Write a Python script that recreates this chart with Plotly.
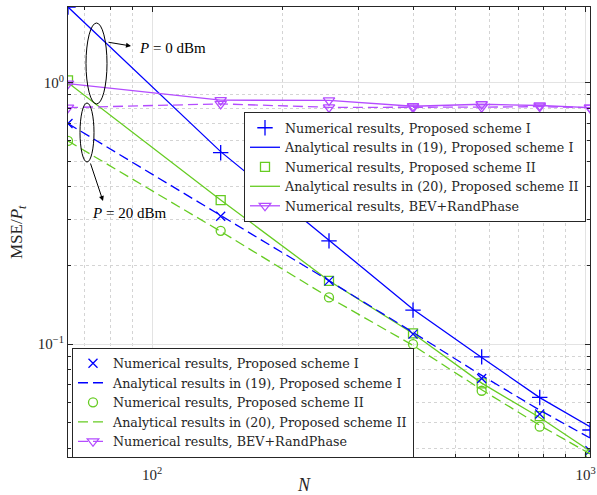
import plotly.graph_objects as go
import math

# ---------------- data ----------------
N = [64, 144, 256, 400, 576, 784, 1024]

# P = 0 dBm
num_I_p0 = [1.947, 0.540, 0.2484, 0.1350, 0.0895, 0.0626, 0.0470]
ana_I_p0 = [1.947, 0.545, 0.250, 0.136, 0.0890, 0.0625, 0.0484]
num_II_p0 = [1.021, 0.3554, 0.1747, 0.110, 0.0708, 0.0531, 0.0368]
ana_II_p0 = [1.000, 0.356, 0.175, 0.110, 0.0710, 0.0525, 0.0391]
bev_p0 = [0.992, 0.857, 0.856, 0.8125, 0.827, 0.818, 0.803]

# P = 20 dBm
num_I_p20 = [0.698, 0.3087, 0.1747, 0.1093, 0.0740, 0.0541, 0.0392]
ana_I_p20 = [0.698, 0.310, 0.175, 0.111, 0.0760, 0.0560, 0.0438]
num_II_p20 = [0.599, 0.2713, 0.151, 0.1001, 0.0664, 0.0484, 0.0380]
ana_II_p20 = [0.599, 0.270, 0.151, 0.099, 0.0670, 0.0490, 0.0381]
bev_p20 = [0.803, 0.830, 0.805, 0.803, 0.806, 0.810, 0.803]

labels = [
    "Numerical results, Proposed scheme I",
    "Analytical results in (19), Proposed scheme I",
    "Numerical results, Proposed scheme II",
    "Analytical results in (20), Proposed scheme II",
    "Numerical results, BEV+RandPhase",
]

x_tickvals = [100, 1000]
x_ticktext = ["10<sup>2</sup>", "10<sup>3</sup>"]
y_tickvals = [0.1, 1]
y_ticktext = ["10<sup>\u22121</sup>", "10<sup>0</sup>"]
x_minor = [70, 80, 90, 200, 300, 400, 500, 600, 700, 800, 900]
y_minor = [0.04, 0.05, 0.06, 0.07, 0.08, 0.09, 0.2, 0.3, 0.4, 0.5, 0.6, 0.7, 0.8, 0.9]

BLUE = "#0000FF"
GREEN = "#66CC22"
PURPLE = "#B44CFF"
FONT = "Liberation Serif"
LFONT = "DejaVu Serif"

# ---------------- geometry (screen px -> paper) ----------------
W, H = 597, 495
L, T = 68, 7
PLOT_RIGHT, PLOT_BOTTOM = 590, 457
R, B = W - PLOT_RIGHT, H - PLOT_BOTTOM
PW, PH = PLOT_RIGHT - L, PLOT_BOTTOM - T


def pxx(px):
    return (px - L) / PW


def pxy(py):
    return (PLOT_BOTTOM - py) / PH


fig = go.Figure()

lw = 1.3


def add(y, name, color, mode, dash="solid", symbol=None, size=9, legend="legend"):
    kw = dict(x=N, y=y, name=name, mode=mode, legend=legend,
              line=dict(color=color, width=lw, dash=dash))
    if symbol:
        kw["marker"] = dict(symbol=symbol, size=size, color=color,
                            line=dict(color=color, width=1.3))
    fig.add_trace(go.Scatter(**kw))


# legend 1: P = 0 dBm
add(num_I_p0, labels[0], BLUE, "markers", symbol="cross-thin-open", size=11)
add(ana_I_p0, labels[1], BLUE, "lines")
add(num_II_p0, labels[2], GREEN, "markers", symbol="square-open", size=9)
add(ana_II_p0, labels[3], GREEN, "lines")
add(bev_p0, labels[4], PURPLE, "lines+markers", symbol="triangle-down-open", size=10)

# legend 2: P = 20 dBm
add(num_I_p20, labels[0], BLUE, "markers", symbol="x-thin-open", size=9, legend="legend2")
add(ana_I_p20, labels[1], BLUE, "lines", dash="10px,5px", legend="legend2")
add(num_II_p20, labels[2], GREEN, "markers", symbol="circle-open", size=9, legend="legend2")
add(ana_II_p20, labels[3], GREEN, "lines", dash="10px,5px", legend="legend2")
add(bev_p20, labels[4], PURPLE, "lines+markers", dash="10px,5px",
    symbol="triangle-down-open", size=10, legend="legend2")

axis_common = dict(
    type="log", automargin=False,
    showline=True, linecolor="#262626", linewidth=1, mirror="allticks",
    ticks="inside", ticklen=5, tickcolor="#262626",
    showgrid=True, gridcolor="#e3e3e3", gridwidth=1,
    zeroline=False,
    tickfont=dict(family=FONT, size=15, color="#262626"),
)

fig.update_xaxes(
    **axis_common,
    range=[math.log10(64), math.log10(1024)],
    tickmode="array", tickvals=x_tickvals, ticktext=x_ticktext,
    ticklabelstandoff=4,
    minor=dict(tickmode="array", tickvals=x_minor, ticks="inside", ticklen=3,
               tickcolor="#262626", showgrid=True, gridcolor="#d4d4d4", griddash="dot"),
)
fig.update_yaxes(
    **axis_common,
    range=[math.log10(0.03706), math.log10(1.947)],
    tickmode="array", tickvals=y_tickvals, ticktext=y_ticktext,
    minor=dict(tickmode="array", tickvals=y_minor, ticks="inside", ticklen=3,
               tickcolor="#262626", showgrid=True, gridcolor="#d4d4d4", griddash="dot"),
)

legend_common = dict(
    bgcolor="white", bordercolor="#262626", borderwidth=1,
    font=dict(family=LFONT, size=12.7, color="#262626"),
    tracegroupgap=0, itemwidth=30,
)

fig.update_layout(
    width=W, height=H,
    margin=dict(l=L, r=R, t=T, b=B, autoexpand=False),
    paper_bgcolor="white", plot_bgcolor="white",
    showlegend=True,
    legend=dict(**legend_common, x=pxx(586), y=pxy(112), xanchor="right", yanchor="top"),
    legend2=dict(**legend_common, x=pxx(72), y=pxy(457.5), xanchor="left", yanchor="bottom"),
)

# axis titles
fig.add_annotation(xref="paper", yref="paper", x=pxx(304), y=pxy(485),
                   xanchor="center", yanchor="middle",
                   showarrow=False, text="<i>N</i>",
                   font=dict(family=FONT, size=18, color="#262626"))
fig.add_annotation(xref="paper", yref="paper", x=pxx(18), y=pxy(232),
                   xanchor="center", yanchor="middle",
                   showarrow=False, textangle=-90,
                   text="MSE/<i>P</i><sub><i>t</i></sub>",
                   font=dict(family=FONT, size=17, color="#262626"))

# ellipses
fig.add_shape(type="circle", xref="paper", yref="paper",
              x0=pxx(86), x1=pxx(107), y0=pxy(104), y1=pxy(23),
              line=dict(color="black", width=1))
fig.add_shape(type="circle", xref="paper", yref="paper",
              x0=pxx(80), x1=pxx(94), y0=pxy(162), y1=pxy(103),
              line=dict(color="black", width=1))

# arrows
fig.add_annotation(xref="paper", yref="paper", x=pxx(131), y=pxy(46),
                   ax=107 - 131, ay=42 - 46, text="", showarrow=True,
                   arrowhead=2, arrowsize=1, arrowwidth=1, arrowcolor="black")
fig.add_annotation(xref="paper", yref="paper", x=pxx(103), y=pxy(201),
                   ax=90 - 103, ay=162 - 201, text="", showarrow=True,
                   arrowhead=2, arrowsize=1, arrowwidth=1, arrowcolor="black")

# texts
fig.add_annotation(xref="paper", yref="paper", x=pxx(137), y=pxy(48),
                   xanchor="left", yanchor="middle", showarrow=False,
                   text="<i>P</i> = 0 dBm", font=dict(family=FONT, size=15, color="black"))
fig.add_annotation(xref="paper", yref="paper", x=pxx(90), y=pxy(213),
                   xanchor="left", yanchor="middle", showarrow=False,
                   text="<i>P</i> = 20 dBm", font=dict(family=FONT, size=15, color="black"))

# remove the default page margin so the figure fills the window exactly
fig.write_html(
    "out.html",
    config={"displayModeBar": False},
    post_script="document.body.style.margin='0';document.body.style.overflow='hidden';",
)
